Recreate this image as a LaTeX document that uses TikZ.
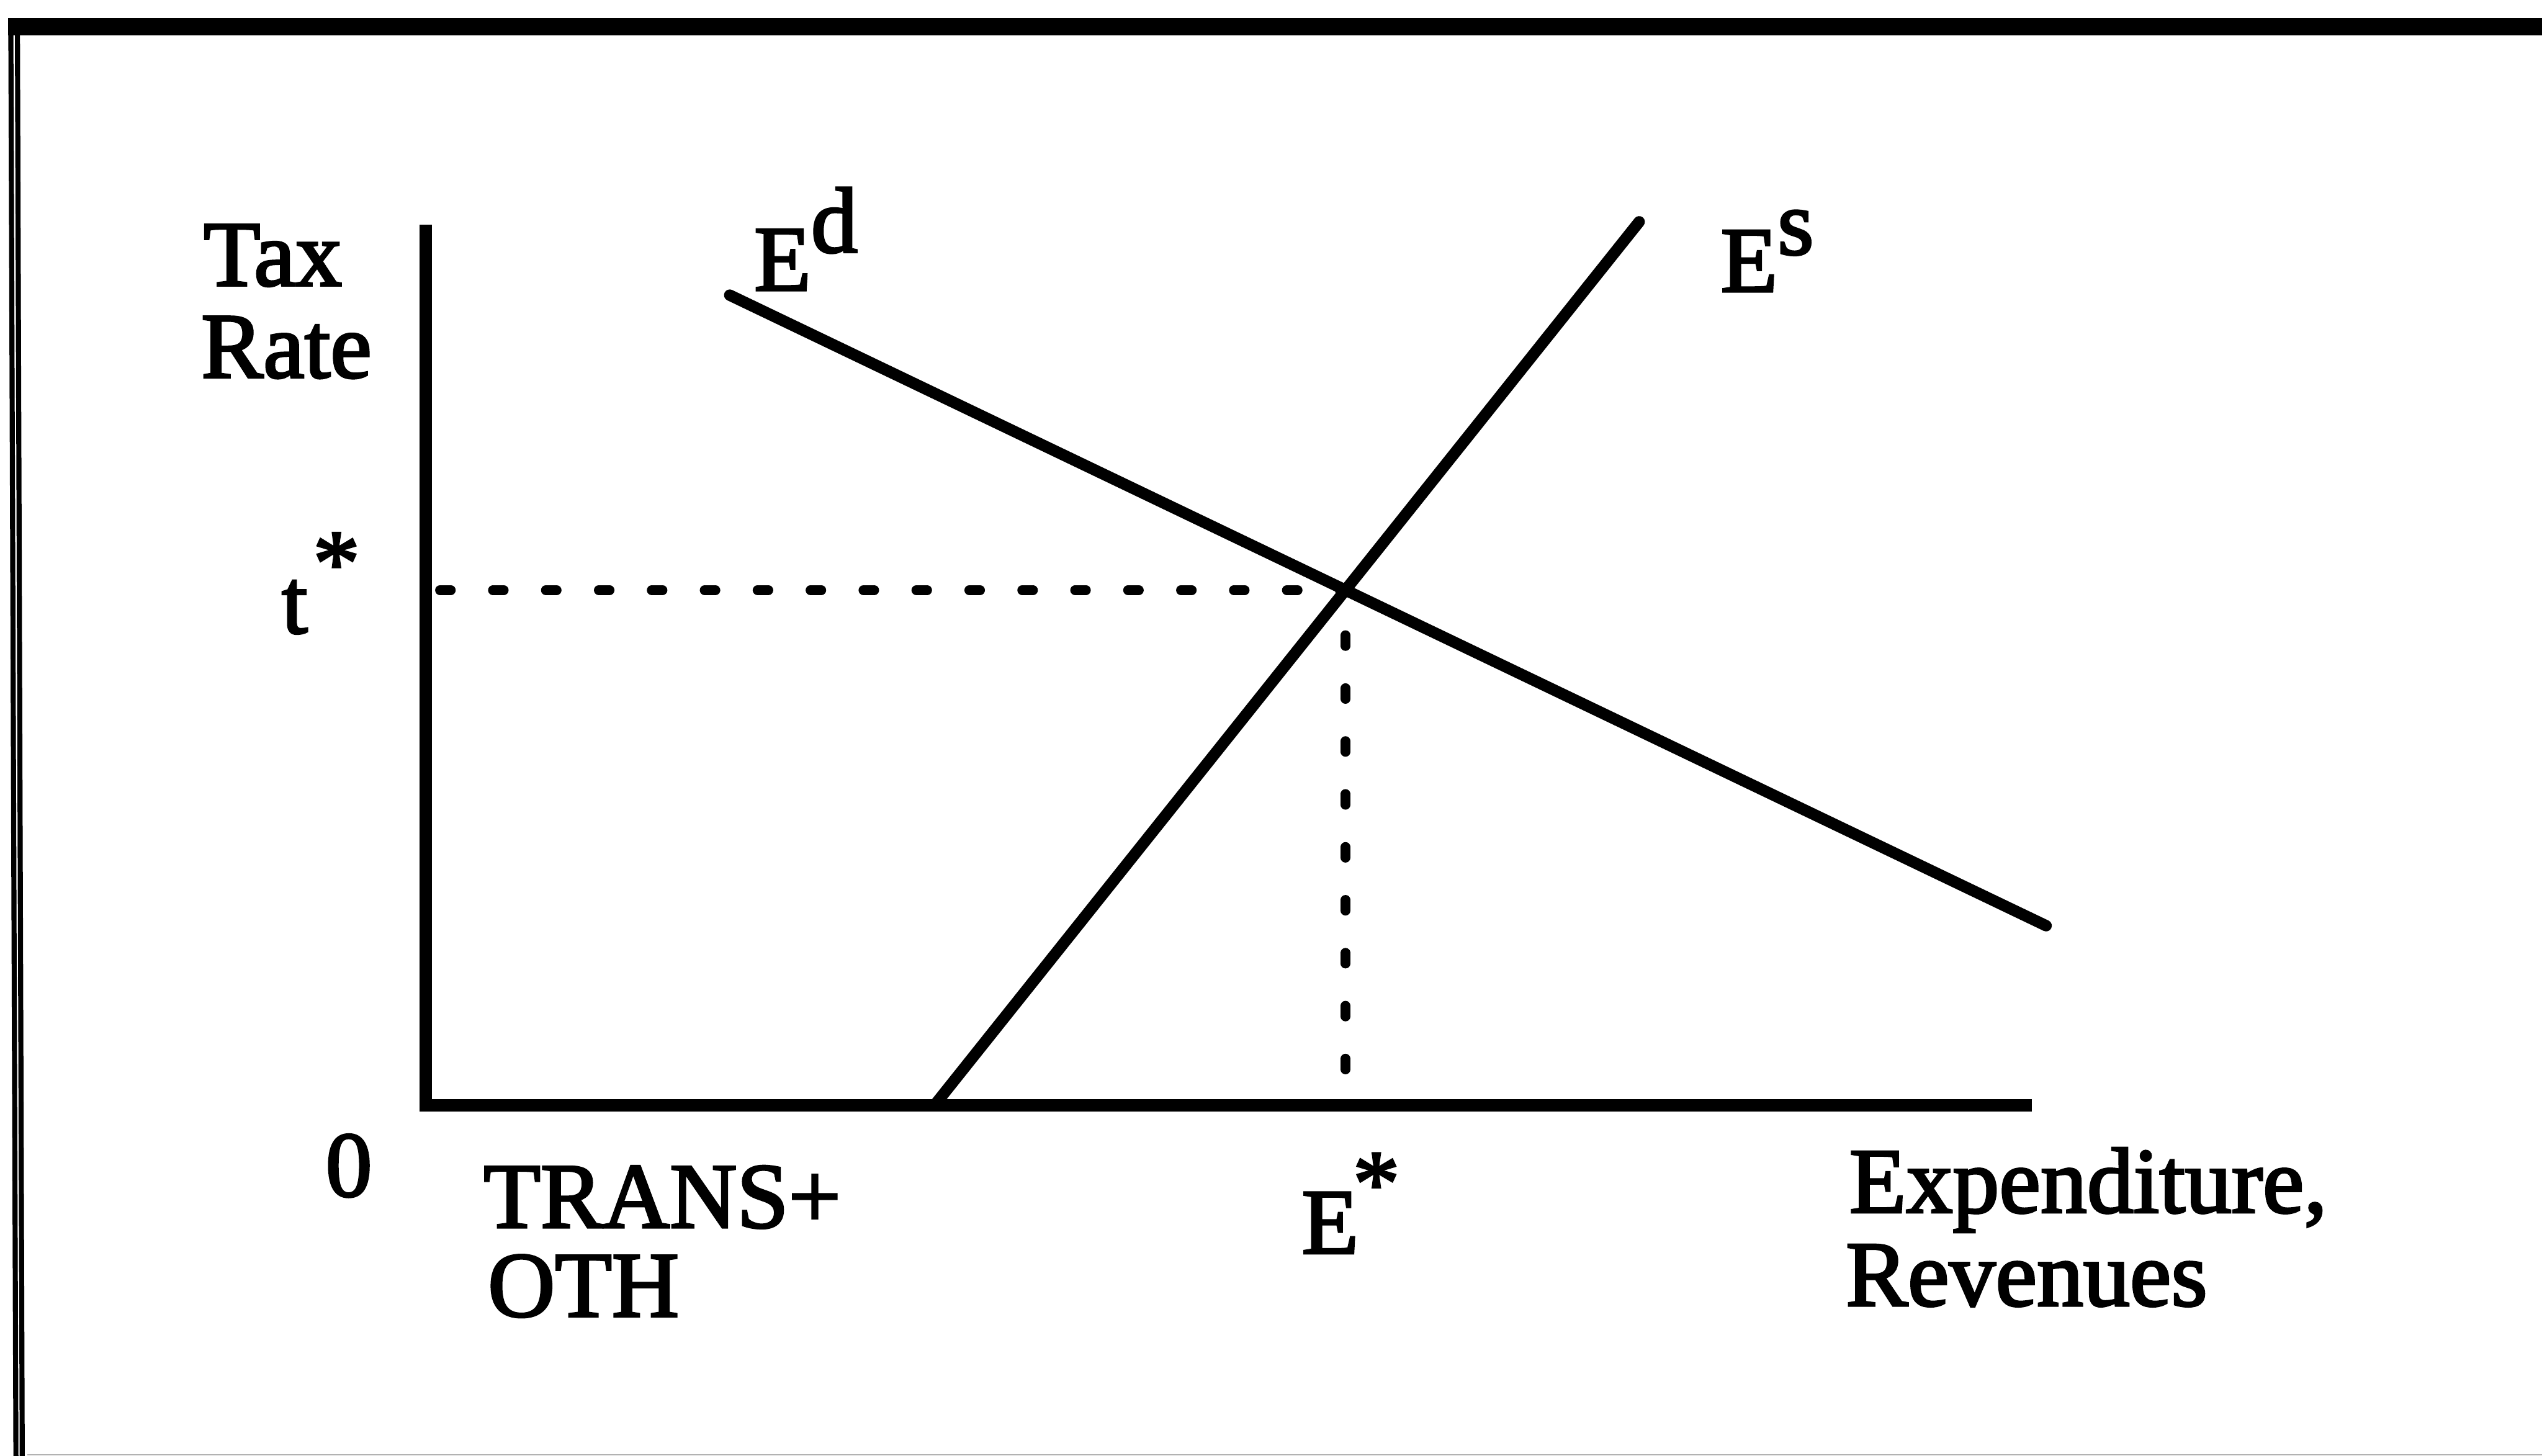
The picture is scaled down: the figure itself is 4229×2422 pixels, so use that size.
\documentclass[tikz,border=0pt]{standalone}
\usepackage{fontspec}
\setmainfont{Liberation Serif}[FakeBold=2.5]
\usetikzlibrary{calc}
\begin{document}
\begin{tikzpicture}[x=0.01cm,y=-0.01cm,
  lbl/.style={anchor=base west,inner sep=0pt,font=\fontsize{44pt}{44pt}\selectfont},
  curve/.style={line width=5.4pt,line cap=round},
  axisline/.style={line width=6pt},
  guide/.style={line width=4.6pt,line cap=round,dash pattern=on 0.18cm off 0.7cm},
  frameline/.style={line width=2.4pt}]
\useasboundingbox (0,0) rectangle (4229,2422);
% frame
\fill (13,30) rectangle (4229,59);
\draw[frameline] (18,40) -- (26.5,2422);
\draw[frameline] (29,50) -- (37,2422);
\draw[gray!60,line width=0.6pt] (45,2420) -- (4229,2420);
% axes
\coordinate (ytop) at (708,374);
\coordinate (orig) at (708,1839);
\coordinate (xend) at (3380,1839);
\draw[axisline] (ytop) -- (orig) -- (xend);
% curves
\coordinate (ed1) at (1214,491);
\coordinate (ed2) at (3404,1540);
\coordinate (es1) at (1556,1837);
\coordinate (es2) at (2727,369);
\draw[curve] (ed1) -- (ed2);
\draw[curve] (es1) -- (es2);
\coordinate (eq) at (intersection of ed1--ed2 and es1--es2);
\draw[guide] ($(orig|-eq)+(24,0)$) -- (eq);
\draw[guide] ($(eq)+(0,75)$) -- ($(eq|-orig)+(0,-20)$);
% labels
\node[lbl] (tax) at (338,475) {Tax};
\node[lbl] (rate) at (334,628) {Rate};
\node[lbl] (tstar) at (468,1053) {t\hspace{0.06em}\raisebox{0.42em}{*}};
\node[lbl] (zero) at (541,1990) {0};
\node[lbl] (edl) at (1254,483) {E\raisebox{0.41em}{d}};
\node[lbl] (esl) at (2862,485) {E\raisebox{0.40em}{s}};
\node[lbl] (trans) at (804,2042) {TRANS+};
\node[lbl] (oth) at (811,2190) {OTH};
\node[lbl] (estar) at (2165,2085) {E\hspace{-0.06em}\raisebox{0.42em}{*}};
\node[lbl] (expend) at (3076,2017) {Expenditure,};
\node[lbl] (rev) at (3070,2172) {Revenues};
\end{tikzpicture}
\end{document}
